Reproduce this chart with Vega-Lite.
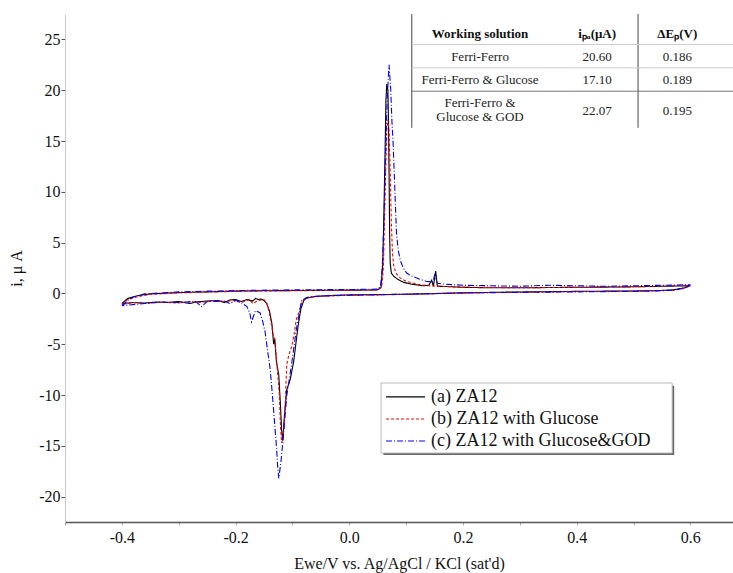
{
 "$schema": "https://vega.github.io/schema/vega-lite/v6.json",
 "width": 668, "height": 508,
 "autosize": {"type": "none"},
 "padding": {"left": 65, "top": 14, "right": 0, "bottom": 51},
 "background": "white",
 "config": {"view": {"stroke": null}, "font": "Liberation Serif, serif"},
 "datasets": {
  "cv": [
   {"s":"(a) ZA12","k":1,"E":-0.40,"I":-1.0},{"s":"(a) ZA12","k":2,"E":-0.39,"I":-0.5},{"s":"(a) ZA12","k":3,"E":-0.37,"I":-0.2},{"s":"(a) ZA12","k":4,"E":-0.35,"I":-0.05},{"s":"(a) ZA12","k":5,"E":-0.30,"I":0.08},{"s":"(a) ZA12","k":6,"E":-0.25,"I":0.15},{"s":"(a) ZA12","k":7,"E":-0.20,"I":0.22},{"s":"(a) ZA12","k":8,"E":-0.15,"I":0.26},{"s":"(a) ZA12","k":9,"E":-0.10,"I":0.28},{"s":"(a) ZA12","k":10,"E":-0.05,"I":0.30},{"s":"(a) ZA12","k":11,"E":0.0,"I":0.32},{"s":"(a) ZA12","k":12,"E":0.03,"I":0.33},{"s":"(a) ZA12","k":13,"E":0.05,"I":0.36},{"s":"(a) ZA12","k":14,"E":0.056,"I":0.6},{"s":"(a) ZA12","k":15,"E":0.059,"I":3},{"s":"(a) ZA12","k":16,"E":0.061,"I":8},{"s":"(a) ZA12","k":17,"E":0.063,"I":14},{"s":"(a) ZA12","k":18,"E":0.0645,"I":19},{"s":"(a) ZA12","k":19,"E":0.066,"I":20.6},{"s":"(a) ZA12","k":20,"E":0.068,"I":20.0},{"s":"(a) ZA12","k":21,"E":0.069,"I":17},{"s":"(a) ZA12","k":22,"E":0.070,"I":12},{"s":"(a) ZA12","k":23,"E":0.071,"I":6},{"s":"(a) ZA12","k":24,"E":0.072,"I":3},{"s":"(a) ZA12","k":25,"E":0.074,"I":2.0},{"s":"(a) ZA12","k":26,"E":0.078,"I":1.7},{"s":"(a) ZA12","k":27,"E":0.085,"I":1.4},{"s":"(a) ZA12","k":28,"E":0.095,"I":1.1},{"s":"(a) ZA12","k":29,"E":0.11,"I":0.9},{"s":"(a) ZA12","k":30,"E":0.13,"I":0.75},{"s":"(a) ZA12","k":31,"E":0.14,"I":0.8},{"s":"(a) ZA12","k":32,"E":0.145,"I":1.3},{"s":"(a) ZA12","k":33,"E":0.148,"I":0.7},{"s":"(a) ZA12","k":34,"E":0.152,"I":2.2},{"s":"(a) ZA12","k":35,"E":0.155,"I":0.7},{"s":"(a) ZA12","k":36,"E":0.17,"I":0.68},{"s":"(a) ZA12","k":37,"E":0.2,"I":0.6},{"s":"(a) ZA12","k":38,"E":0.25,"I":0.55},{"s":"(a) ZA12","k":39,"E":0.3,"I":0.55},{"s":"(a) ZA12","k":40,"E":0.35,"I":0.58},{"s":"(a) ZA12","k":41,"E":0.4,"I":0.6},{"s":"(a) ZA12","k":42,"E":0.45,"I":0.62},{"s":"(a) ZA12","k":43,"E":0.5,"I":0.65},{"s":"(a) ZA12","k":44,"E":0.55,"I":0.7},{"s":"(a) ZA12","k":45,"E":0.6,"I":0.75},{"s":"(a) ZA12","k":46,"E":0.59,"I":0.55},{"s":"(a) ZA12","k":47,"E":0.57,"I":0.35},{"s":"(a) ZA12","k":48,"E":0.54,"I":0.27},{"s":"(a) ZA12","k":49,"E":0.5,"I":0.24},{"s":"(a) ZA12","k":50,"E":0.45,"I":0.22},{"s":"(a) ZA12","k":51,"E":0.4,"I":0.2},{"s":"(a) ZA12","k":52,"E":0.35,"I":0.17},{"s":"(a) ZA12","k":53,"E":0.3,"I":0.14},{"s":"(a) ZA12","k":54,"E":0.25,"I":0.1},{"s":"(a) ZA12","k":55,"E":0.2,"I":0.05},{"s":"(a) ZA12","k":56,"E":0.15,"I":-0.02},{"s":"(a) ZA12","k":57,"E":0.1,"I":-0.08},{"s":"(a) ZA12","k":58,"E":0.05,"I":-0.12},{"s":"(a) ZA12","k":59,"E":0.0,"I":-0.15},{"s":"(a) ZA12","k":60,"E":-0.03,"I":-0.2},{"s":"(a) ZA12","k":61,"E":-0.06,"I":-0.3},{"s":"(a) ZA12","k":62,"E":-0.075,"I":-0.45},{"s":"(a) ZA12","k":63,"E":-0.08,"I":-0.7},{"s":"(a) ZA12","k":64,"E":-0.085,"I":-1.5},{"s":"(a) ZA12","k":65,"E":-0.09,"I":-3.2},{"s":"(a) ZA12","k":66,"E":-0.098,"I":-6.8},{"s":"(a) ZA12","k":67,"E":-0.104,"I":-8.5},{"s":"(a) ZA12","k":68,"E":-0.11,"I":-9.5},{"s":"(a) ZA12","k":69,"E":-0.114,"I":-12},{"s":"(a) ZA12","k":70,"E":-0.117,"I":-14.5},{"s":"(a) ZA12","k":71,"E":-0.119,"I":-13.5},{"s":"(a) ZA12","k":72,"E":-0.121,"I":-11},{"s":"(a) ZA12","k":73,"E":-0.124,"I":-8},{"s":"(a) ZA12","k":74,"E":-0.128,"I":-6.8},{"s":"(a) ZA12","k":75,"E":-0.131,"I":-4.5},{"s":"(a) ZA12","k":76,"E":-0.133,"I":-5.0},{"s":"(a) ZA12","k":77,"E":-0.136,"I":-3.0},{"s":"(a) ZA12","k":78,"E":-0.14,"I":-1.8},{"s":"(a) ZA12","k":79,"E":-0.145,"I":-1.0},{"s":"(a) ZA12","k":80,"E":-0.15,"I":-0.7},{"s":"(a) ZA12","k":81,"E":-0.155,"I":-0.55},{"s":"(a) ZA12","k":82,"E":-0.16,"I":-0.6},{"s":"(a) ZA12","k":83,"E":-0.165,"I":-0.5},{"s":"(a) ZA12","k":84,"E":-0.17,"I":-0.75},{"s":"(a) ZA12","k":85,"E":-0.18,"I":-0.6},{"s":"(a) ZA12","k":86,"E":-0.19,"I":-0.8},{"s":"(a) ZA12","k":87,"E":-0.2,"I":-0.6},{"s":"(a) ZA12","k":88,"E":-0.21,"I":-0.65},{"s":"(a) ZA12","k":89,"E":-0.22,"I":-0.9},{"s":"(a) ZA12","k":90,"E":-0.23,"I":-0.7},{"s":"(a) ZA12","k":91,"E":-0.25,"I":-0.75},{"s":"(a) ZA12","k":92,"E":-0.27,"I":-0.85},{"s":"(a) ZA12","k":93,"E":-0.28,"I":-1.0},{"s":"(a) ZA12","k":94,"E":-0.3,"I":-0.8},{"s":"(a) ZA12","k":95,"E":-0.32,"I":-0.9},{"s":"(a) ZA12","k":96,"E":-0.34,"I":-0.85},{"s":"(a) ZA12","k":97,"E":-0.36,"I":-0.95},{"s":"(a) ZA12","k":98,"E":-0.38,"I":-0.9},{"s":"(a) ZA12","k":99,"E":-0.4,"I":-1.0},

   {"s":"(b) ZA12 with Glucose","k":1,"E":-0.4,"I":-1.1},{"s":"(b) ZA12 with Glucose","k":2,"E":-0.39,"I":-0.6},{"s":"(b) ZA12 with Glucose","k":3,"E":-0.37,"I":-0.3},{"s":"(b) ZA12 with Glucose","k":4,"E":-0.35,"I":-0.1},{"s":"(b) ZA12 with Glucose","k":5,"E":-0.3,"I":0.05},{"s":"(b) ZA12 with Glucose","k":6,"E":-0.2,"I":0.2},{"s":"(b) ZA12 with Glucose","k":7,"E":-0.1,"I":0.27},{"s":"(b) ZA12 with Glucose","k":8,"E":0.0,"I":0.3},{"s":"(b) ZA12 with Glucose","k":9,"E":0.05,"I":0.33},{"s":"(b) ZA12 with Glucose","k":10,"E":0.057,"I":0.6},{"s":"(b) ZA12 with Glucose","k":11,"E":0.06,"I":2.5},{"s":"(b) ZA12 with Glucose","k":12,"E":0.062,"I":7},{"s":"(b) ZA12 with Glucose","k":13,"E":0.064,"I":12},{"s":"(b) ZA12 with Glucose","k":14,"E":0.066,"I":16},{"s":"(b) ZA12 with Glucose","k":15,"E":0.068,"I":17.1},{"s":"(b) ZA12 with Glucose","k":16,"E":0.07,"I":16},{"s":"(b) ZA12 with Glucose","k":17,"E":0.072,"I":12},{"s":"(b) ZA12 with Glucose","k":18,"E":0.074,"I":7},{"s":"(b) ZA12 with Glucose","k":19,"E":0.076,"I":4},{"s":"(b) ZA12 with Glucose","k":20,"E":0.078,"I":2.8},{"s":"(b) ZA12 with Glucose","k":21,"E":0.082,"I":2.0},{"s":"(b) ZA12 with Glucose","k":22,"E":0.09,"I":1.5},{"s":"(b) ZA12 with Glucose","k":23,"E":0.1,"I":1.2},{"s":"(b) ZA12 with Glucose","k":24,"E":0.12,"I":0.9},{"s":"(b) ZA12 with Glucose","k":25,"E":0.14,"I":0.75},{"s":"(b) ZA12 with Glucose","k":26,"E":0.16,"I":0.7},{"s":"(b) ZA12 with Glucose","k":27,"E":0.2,"I":0.62},{"s":"(b) ZA12 with Glucose","k":28,"E":0.3,"I":0.55},{"s":"(b) ZA12 with Glucose","k":29,"E":0.4,"I":0.6},{"s":"(b) ZA12 with Glucose","k":30,"E":0.5,"I":0.65},{"s":"(b) ZA12 with Glucose","k":31,"E":0.6,"I":0.8},{"s":"(b) ZA12 with Glucose","k":32,"E":0.59,"I":0.5},{"s":"(b) ZA12 with Glucose","k":33,"E":0.57,"I":0.3},{"s":"(b) ZA12 with Glucose","k":34,"E":0.5,"I":0.22},{"s":"(b) ZA12 with Glucose","k":35,"E":0.4,"I":0.18},{"s":"(b) ZA12 with Glucose","k":36,"E":0.3,"I":0.12},{"s":"(b) ZA12 with Glucose","k":37,"E":0.2,"I":0.05},{"s":"(b) ZA12 with Glucose","k":38,"E":0.1,"I":-0.1},{"s":"(b) ZA12 with Glucose","k":39,"E":0.0,"I":-0.18},{"s":"(b) ZA12 with Glucose","k":40,"E":-0.05,"I":-0.28},{"s":"(b) ZA12 with Glucose","k":41,"E":-0.07,"I":-0.4},{"s":"(b) ZA12 with Glucose","k":42,"E":-0.08,"I":-0.6},{"s":"(b) ZA12 with Glucose","k":43,"E":-0.084,"I":-0.9},{"s":"(b) ZA12 with Glucose","k":44,"E":-0.088,"I":-1.8},{"s":"(b) ZA12 with Glucose","k":45,"E":-0.093,"I":-2.5},{"s":"(b) ZA12 with Glucose","k":46,"E":-0.097,"I":-4.0},{"s":"(b) ZA12 with Glucose","k":47,"E":-0.101,"I":-5.2},{"s":"(b) ZA12 with Glucose","k":48,"E":-0.106,"I":-6.0},{"s":"(b) ZA12 with Glucose","k":49,"E":-0.11,"I":-7.0},{"s":"(b) ZA12 with Glucose","k":50,"E":-0.112,"I":-10},{"s":"(b) ZA12 with Glucose","k":51,"E":-0.114,"I":-12.5},{"s":"(b) ZA12 with Glucose","k":52,"E":-0.117,"I":-14.3},{"s":"(b) ZA12 with Glucose","k":53,"E":-0.119,"I":-14.7},{"s":"(b) ZA12 with Glucose","k":54,"E":-0.121,"I":-13},{"s":"(b) ZA12 with Glucose","k":55,"E":-0.123,"I":-10},{"s":"(b) ZA12 with Glucose","k":56,"E":-0.125,"I":-8.5},{"s":"(b) ZA12 with Glucose","k":57,"E":-0.128,"I":-6.5},{"s":"(b) ZA12 with Glucose","k":58,"E":-0.131,"I":-4.5},{"s":"(b) ZA12 with Glucose","k":59,"E":-0.134,"I":-4.0},{"s":"(b) ZA12 with Glucose","k":60,"E":-0.137,"I":-3.0},{"s":"(b) ZA12 with Glucose","k":61,"E":-0.141,"I":-1.8},{"s":"(b) ZA12 with Glucose","k":62,"E":-0.145,"I":-1.0},{"s":"(b) ZA12 with Glucose","k":63,"E":-0.15,"I":-0.6},{"s":"(b) ZA12 with Glucose","k":64,"E":-0.16,"I":-0.7},{"s":"(b) ZA12 with Glucose","k":65,"E":-0.17,"I":-1.0},{"s":"(b) ZA12 with Glucose","k":66,"E":-0.175,"I":-0.6},{"s":"(b) ZA12 with Glucose","k":67,"E":-0.19,"I":-0.9},{"s":"(b) ZA12 with Glucose","k":68,"E":-0.2,"I":-0.7},{"s":"(b) ZA12 with Glucose","k":69,"E":-0.22,"I":-0.8},{"s":"(b) ZA12 with Glucose","k":70,"E":-0.24,"I":-0.7},{"s":"(b) ZA12 with Glucose","k":71,"E":-0.26,"I":-0.9},{"s":"(b) ZA12 with Glucose","k":72,"E":-0.28,"I":-0.8},{"s":"(b) ZA12 with Glucose","k":73,"E":-0.3,"I":-0.95},{"s":"(b) ZA12 with Glucose","k":74,"E":-0.33,"I":-0.85},{"s":"(b) ZA12 with Glucose","k":75,"E":-0.36,"I":-1.0},{"s":"(b) ZA12 with Glucose","k":76,"E":-0.38,"I":-0.9},{"s":"(b) ZA12 with Glucose","k":77,"E":-0.4,"I":-1.1},

   {"s":"(c) ZA12 with Glucose&GOD","k":1,"E":-0.4,"I":-1.2},{"s":"(c) ZA12 with Glucose&GOD","k":2,"E":-0.39,"I":-0.7},{"s":"(c) ZA12 with Glucose&GOD","k":3,"E":-0.38,"I":-0.35},{"s":"(c) ZA12 with Glucose&GOD","k":4,"E":-0.36,"I":-0.05},{"s":"(c) ZA12 with Glucose&GOD","k":5,"E":-0.3,"I":0.15},{"s":"(c) ZA12 with Glucose&GOD","k":6,"E":-0.25,"I":0.22},{"s":"(c) ZA12 with Glucose&GOD","k":7,"E":-0.2,"I":0.28},{"s":"(c) ZA12 with Glucose&GOD","k":8,"E":-0.1,"I":0.35},{"s":"(c) ZA12 with Glucose&GOD","k":9,"E":0.0,"I":0.38},{"s":"(c) ZA12 with Glucose&GOD","k":10,"E":0.05,"I":0.42},{"s":"(c) ZA12 with Glucose&GOD","k":11,"E":0.055,"I":0.7},{"s":"(c) ZA12 with Glucose&GOD","k":12,"E":0.058,"I":2.5},{"s":"(c) ZA12 with Glucose&GOD","k":13,"E":0.061,"I":7},{"s":"(c) ZA12 with Glucose&GOD","k":14,"E":0.064,"I":14},{"s":"(c) ZA12 with Glucose&GOD","k":15,"E":0.067,"I":19.5},{"s":"(c) ZA12 with Glucose&GOD","k":16,"E":0.07,"I":22.5},{"s":"(c) ZA12 with Glucose&GOD","k":17,"E":0.073,"I":20},{"s":"(c) ZA12 with Glucose&GOD","k":18,"E":0.075,"I":17},{"s":"(c) ZA12 with Glucose&GOD","k":19,"E":0.077,"I":15},{"s":"(c) ZA12 with Glucose&GOD","k":20,"E":0.079,"I":12},{"s":"(c) ZA12 with Glucose&GOD","k":21,"E":0.081,"I":9},{"s":"(c) ZA12 with Glucose&GOD","k":22,"E":0.083,"I":6},{"s":"(c) ZA12 with Glucose&GOD","k":23,"E":0.086,"I":4.3},{"s":"(c) ZA12 with Glucose&GOD","k":24,"E":0.09,"I":3.2},{"s":"(c) ZA12 with Glucose&GOD","k":25,"E":0.095,"I":2.5},{"s":"(c) ZA12 with Glucose&GOD","k":26,"E":0.101,"I":2.0},{"s":"(c) ZA12 with Glucose&GOD","k":27,"E":0.11,"I":1.7},{"s":"(c) ZA12 with Glucose&GOD","k":28,"E":0.124,"I":1.4},{"s":"(c) ZA12 with Glucose&GOD","k":29,"E":0.135,"I":1.2},{"s":"(c) ZA12 with Glucose&GOD","k":30,"E":0.147,"I":1.1},{"s":"(c) ZA12 with Glucose&GOD","k":31,"E":0.15,"I":1.8},{"s":"(c) ZA12 with Glucose&GOD","k":32,"E":0.155,"I":1.0},{"s":"(c) ZA12 with Glucose&GOD","k":33,"E":0.17,"I":0.9},{"s":"(c) ZA12 with Glucose&GOD","k":34,"E":0.2,"I":0.8},{"s":"(c) ZA12 with Glucose&GOD","k":35,"E":0.25,"I":0.75},{"s":"(c) ZA12 with Glucose&GOD","k":36,"E":0.3,"I":0.7},{"s":"(c) ZA12 with Glucose&GOD","k":37,"E":0.35,"I":0.8},{"s":"(c) ZA12 with Glucose&GOD","k":38,"E":0.4,"I":0.75},{"s":"(c) ZA12 with Glucose&GOD","k":39,"E":0.45,"I":0.7},{"s":"(c) ZA12 with Glucose&GOD","k":40,"E":0.5,"I":0.75},{"s":"(c) ZA12 with Glucose&GOD","k":41,"E":0.55,"I":0.8},{"s":"(c) ZA12 with Glucose&GOD","k":42,"E":0.6,"I":0.85},{"s":"(c) ZA12 with Glucose&GOD","k":43,"E":0.59,"I":0.55},{"s":"(c) ZA12 with Glucose&GOD","k":44,"E":0.57,"I":0.3},{"s":"(c) ZA12 with Glucose&GOD","k":45,"E":0.5,"I":0.2},{"s":"(c) ZA12 with Glucose&GOD","k":46,"E":0.4,"I":0.15},{"s":"(c) ZA12 with Glucose&GOD","k":47,"E":0.3,"I":0.1},{"s":"(c) ZA12 with Glucose&GOD","k":48,"E":0.2,"I":0.05},{"s":"(c) ZA12 with Glucose&GOD","k":49,"E":0.1,"I":-0.08},{"s":"(c) ZA12 with Glucose&GOD","k":50,"E":0.0,"I":-0.18},{"s":"(c) ZA12 with Glucose&GOD","k":51,"E":-0.05,"I":-0.25},{"s":"(c) ZA12 with Glucose&GOD","k":52,"E":-0.07,"I":-0.35},{"s":"(c) ZA12 with Glucose&GOD","k":53,"E":-0.075,"I":-0.4},{"s":"(c) ZA12 with Glucose&GOD","k":54,"E":-0.084,"I":-0.73},{"s":"(c) ZA12 with Glucose&GOD","k":55,"E":-0.088,"I":-2.0},{"s":"(c) ZA12 with Glucose&GOD","k":56,"E":-0.093,"I":-3.5},{"s":"(c) ZA12 with Glucose&GOD","k":57,"E":-0.101,"I":-6.8},{"s":"(c) ZA12 with Glucose&GOD","k":58,"E":-0.11,"I":-10.1},{"s":"(c) ZA12 with Glucose&GOD","k":59,"E":-0.116,"I":-14.1},{"s":"(c) ZA12 with Glucose&GOD","k":60,"E":-0.12,"I":-16.5},{"s":"(c) ZA12 with Glucose&GOD","k":61,"E":-0.124,"I":-18.2},{"s":"(c) ZA12 with Glucose&GOD","k":62,"E":-0.126,"I":-17},{"s":"(c) ZA12 with Glucose&GOD","k":63,"E":-0.128,"I":-15.1},{"s":"(c) ZA12 with Glucose&GOD","k":64,"E":-0.131,"I":-13},{"s":"(c) ZA12 with Glucose&GOD","k":65,"E":-0.134,"I":-10.8},{"s":"(c) ZA12 with Glucose&GOD","k":66,"E":-0.139,"I":-7.5},{"s":"(c) ZA12 with Glucose&GOD","k":67,"E":-0.144,"I":-5.5},{"s":"(c) ZA12 with Glucose&GOD","k":68,"E":-0.148,"I":-3.8},{"s":"(c) ZA12 with Glucose&GOD","k":69,"E":-0.152,"I":-2.8},{"s":"(c) ZA12 with Glucose&GOD","k":70,"E":-0.157,"I":-1.9},{"s":"(c) ZA12 with Glucose&GOD","k":71,"E":-0.165,"I":-1.7},{"s":"(c) ZA12 with Glucose&GOD","k":72,"E":-0.172,"I":-2.8},{"s":"(c) ZA12 with Glucose&GOD","k":73,"E":-0.175,"I":-1.9},{"s":"(c) ZA12 with Glucose&GOD","k":74,"E":-0.18,"I":-1.3},{"s":"(c) ZA12 with Glucose&GOD","k":75,"E":-0.19,"I":-0.9},{"s":"(c) ZA12 with Glucose&GOD","k":76,"E":-0.2,"I":-0.7},{"s":"(c) ZA12 with Glucose&GOD","k":77,"E":-0.21,"I":-1.0},{"s":"(c) ZA12 with Glucose&GOD","k":78,"E":-0.22,"I":-0.75},{"s":"(c) ZA12 with Glucose&GOD","k":79,"E":-0.25,"I":-0.8},{"s":"(c) ZA12 with Glucose&GOD","k":80,"E":-0.26,"I":-1.3},{"s":"(c) ZA12 with Glucose&GOD","k":81,"E":-0.27,"I":-0.8},{"s":"(c) ZA12 with Glucose&GOD","k":82,"E":-0.3,"I":-0.9},{"s":"(c) ZA12 with Glucose&GOD","k":83,"E":-0.33,"I":-0.85},{"s":"(c) ZA12 with Glucose&GOD","k":84,"E":-0.36,"I":-1.0},{"s":"(c) ZA12 with Glucose&GOD","k":85,"E":-0.4,"I":-1.2}
  ],
  "legend": [
   {"s":"(a) ZA12","E":0.0647,"E2":0.1334,"L":0.144,"I":-10.19},
   {"s":"(b) ZA12 with Glucose","E":0.0647,"E2":0.1334,"L":0.144,"I":-12.36},
   {"s":"(c) ZA12 with Glucose&GOD","E":0.0647,"E2":0.1334,"L":0.144,"I":-14.53}
  ],
  "lbox": [{"E":0.056,"E2":0.568,"I":-8.82,"I2":-15.71}],
  "lshadow": [{"E":0.06,"E2":0.5715,"I":-9.1,"I2":-15.9}],
  "thead": [
   {"t":"Working solution","E":0.23,"I":25.5},
   {"t":"iₚₐ(μA)","E":0.436,"I":25.5},
   {"t":"ΔEₚ(V)","E":0.577,"I":25.5}
  ],
  "tbody": [
   {"t":"Ferri-Ferro","E":0.23,"I":23.3},{"t":"20.60","E":0.436,"I":23.3},{"t":"0.186","E":0.577,"I":23.3},
   {"t":"Ferri-Ferro & Glucose","E":0.23,"I":21.0},{"t":"17.10","E":0.436,"I":21.0},{"t":"0.189","E":0.577,"I":21.0},
   {"t":"Ferri-Ferro &\nGlucose & GOD","E":0.23,"I":18.7},{"t":"22.07","E":0.436,"I":17.95},{"t":"0.195","E":0.577,"I":17.95}
  ],
  "vlines": [{"E":0.11,"I":16.3,"I2":27.5},{"E":0.508,"I":16.3,"I2":27.5}],
  "hlight": [{"E":0.11,"E2":0.675,"I":24.5},{"E":0.11,"E2":0.675,"I":22.2}],
  "hdark": [{"E":0.11,"E2":0.675,"I":19.9}]
 },
 "layer": [
  {
   "data": {"name": "cv"},
   "mark": {"type": "line", "strokeWidth": 1.1, "clip": true},
   "encoding": {
    "x": {"field": "E", "type": "quantitative", "title": "Ewe/V vs. Ag/AgCl / KCl (sat'd)",
     "scale": {"domain": [-0.5, 0.675], "nice": false, "zero": false},
     "axis": {"values": [-0.5,-0.4,-0.3,-0.2,-0.1,0,0.1,0.2,0.3,0.4,0.5,0.6],
      "labelExpr": "abs(round(datum.value*10)) % 2 === 0 ? replace(format(datum.value, '.1f'), '−', '-') : ''",
      "domainColor": "#555", "domainWidth": 1.5, "tickColor": "#aaa", "tickSize": 3, "grid": false,
      "labelFont": "Liberation Serif, serif", "labelFontSize": 16, "labelColor": "#111", "labelPadding": 4,
      "titleFont": "Liberation Serif, serif", "titleFontSize": 16, "titleFontWeight": "normal", "titleColor": "#111", "titlePadding": 10}},
    "y": {"field": "I", "type": "quantitative", "title": "i, μ A",
     "scale": {"domain": [-22.5, 27.5], "nice": false, "zero": false},
     "axis": {"values": [-20,-17.5,-15,-12.5,-10,-7.5,-5,-2.5,0,2.5,5,7.5,10,12.5,15,17.5,20,22.5,25,27.5],
      "labelExpr": "datum.value % 5 === 0 ? replace(format(datum.value, 'd'), '−', '-') : ''",
      "domainColor": "#c8c8c8", "domainWidth": 1, "tickColor": "#555",
      "tickSize": {"condition": {"test": "datum.value % 5 === 0", "value": 4}, "value": 2},
      "grid": false, "labelFont": "Liberation Serif, serif", "labelFontSize": 16, "labelColor": "#111", "labelPadding": 1,
      "titleFont": "Liberation Serif, serif", "titleFontSize": 16, "titleFontWeight": "normal", "titleColor": "#111", "titlePadding": 14}},
    "order": {"field": "k", "type": "quantitative"},
    "color": {"field": "s", "type": "nominal",
     "scale": {"domain": ["(a) ZA12", "(b) ZA12 with Glucose", "(c) ZA12 with Glucose&GOD"], "range": ["#000000", "#ff0000", "#0000ff"]},
     "legend": null},
    "strokeDash": {"field": "s", "type": "nominal",
     "scale": {"domain": ["(a) ZA12", "(b) ZA12 with Glucose", "(c) ZA12 with Glucose&GOD"], "range": [[1, 0], [3, 2], [6, 2, 1, 2]]},
     "legend": null}
   }
  },
  {
   "data": {"name": "lshadow"},
   "mark": {"type": "rect", "fill": "#666666"},
   "encoding": {"x": {"field": "E", "type": "quantitative", "title": "Ewe/V vs. Ag/AgCl / KCl (sat'd)"}, "x2": {"field": "E2"}, "y": {"field": "I", "type": "quantitative", "title": "i, μ A"}, "y2": {"field": "I2"}}
  },
  {
   "data": {"name": "lbox"},
   "mark": {"type": "rect", "fill": "white", "stroke": "#bbbbbb", "strokeWidth": 1},
   "encoding": {"x": {"field": "E", "type": "quantitative", "title": "Ewe/V vs. Ag/AgCl / KCl (sat'd)"}, "x2": {"field": "E2"}, "y": {"field": "I", "type": "quantitative", "title": "i, μ A"}, "y2": {"field": "I2"}}
  },
  {
   "data": {"name": "legend"},
   "mark": {"type": "rule", "strokeWidth": 1.2},
   "encoding": {"x": {"field": "E", "type": "quantitative", "title": "Ewe/V vs. Ag/AgCl / KCl (sat'd)"}, "x2": {"field": "E2"}, "y": {"field": "I", "type": "quantitative", "title": "i, μ A"},
    "color": {"field": "s", "type": "nominal", "legend": null}, "strokeDash": {"field": "s", "type": "nominal", "legend": null}}
  },
  {
   "data": {"name": "legend"},
   "mark": {"type": "text", "font": "Liberation Serif, serif", "fontSize": 18, "color": "#111", "align": "left", "baseline": "middle"},
   "encoding": {"x": {"field": "L", "type": "quantitative", "title": "Ewe/V vs. Ag/AgCl / KCl (sat'd)"}, "y": {"field": "I", "type": "quantitative", "title": "i, μ A"}, "text": {"field": "s"}}
  },
  {
   "data": {"name": "vlines"},
   "mark": {"type": "rule", "color": "#444", "strokeWidth": 1},
   "encoding": {"x": {"field": "E", "type": "quantitative", "title": "Ewe/V vs. Ag/AgCl / KCl (sat'd)"}, "y": {"field": "I", "type": "quantitative", "title": "i, μ A"}, "y2": {"field": "I2"}}
  },
  {
   "data": {"name": "hlight"},
   "mark": {"type": "rule", "color": "#cccccc", "strokeWidth": 1},
   "encoding": {"x": {"field": "E", "type": "quantitative", "title": "Ewe/V vs. Ag/AgCl / KCl (sat'd)"}, "x2": {"field": "E2"}, "y": {"field": "I", "type": "quantitative", "title": "i, μ A"}}
  },
  {
   "data": {"name": "hdark"},
   "mark": {"type": "rule", "color": "#777777", "strokeWidth": 1},
   "encoding": {"x": {"field": "E", "type": "quantitative", "title": "Ewe/V vs. Ag/AgCl / KCl (sat'd)"}, "x2": {"field": "E2"}, "y": {"field": "I", "type": "quantitative", "title": "i, μ A"}}
  },
  {
   "data": {"name": "thead"},
   "mark": {"type": "text", "font": "Liberation Serif, serif", "fontSize": 13, "fontWeight": "bold", "color": "#111", "align": "center", "baseline": "middle"},
   "encoding": {"x": {"field": "E", "type": "quantitative", "title": "Ewe/V vs. Ag/AgCl / KCl (sat'd)"}, "y": {"field": "I", "type": "quantitative", "title": "i, μ A"}, "text": {"field": "t"}}
  },
  {
   "data": {"name": "tbody"},
   "mark": {"type": "text", "font": "Liberation Serif, serif", "fontSize": 13, "color": "#222", "align": "center", "baseline": "middle", "lineBreak": "\n", "lineHeight": 14},
   "encoding": {"x": {"field": "E", "type": "quantitative", "title": "Ewe/V vs. Ag/AgCl / KCl (sat'd)"}, "y": {"field": "I", "type": "quantitative", "title": "i, μ A"}, "text": {"field": "t"}}
  }
 ]
}
